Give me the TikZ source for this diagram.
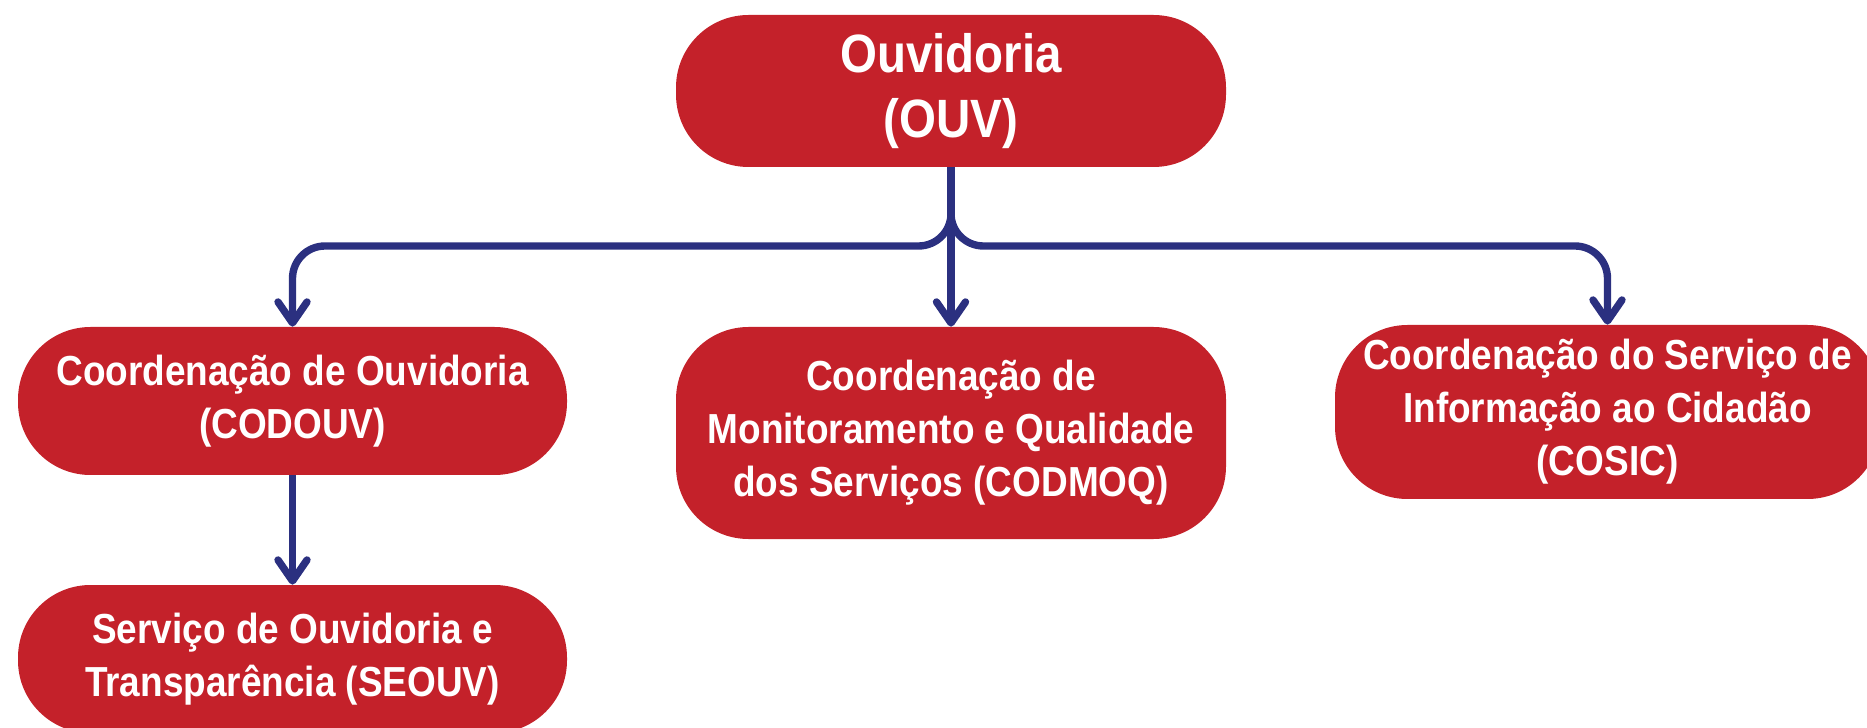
\documentclass[tikz,border=0pt]{standalone}
\usepackage{fontspec}
\setmainfont{Liberation Sans}[FakeStretch=0.88]
\usepackage{tikz}
\usetikzlibrary{arrows.meta}
\definecolor{ouvred}{HTML}{C4212A}
\definecolor{ouvblue}{HTML}{2B3080}

\begin{document}
\begin{tikzpicture}
  \tikzstyle{unit}=[rectangle, rounded corners=1.45cm, fill=ouvred, text=white, align=center,
    inner sep=0pt, font=\bfseries\fontsize{23.9}{30.2}\selectfont]
  \tikzstyle{link}=[-{Straight Barb[length=0.42cm,width=0.58cm,line cap=round,line join=round]},
    line width=4.2pt, color=ouvblue, rounded corners=0.65cm]
  \useasboundingbox (0,0) rectangle (37.34,14.54);
  \node[unit, minimum width=11cm, minimum height=3.04cm,
    font=\bfseries\fontsize{30.7}{37}\selectfont] (ouv) at (19.02,12.72) {Ouvidoria\\(OUV)};
  \node[unit, minimum width=10.98cm, minimum height=2.96cm] (codouv) at (5.85,6.52)
    {Coordenação de Ouvidoria\\(CODOUV)};
  \node[unit, minimum width=10.98cm, minimum height=2.96cm] (seouv) at (5.85,1.36)
    {Serviço de Ouvidoria e\\Transparência (SEOUV)};
  \node[unit, minimum width=11cm, minimum height=4.24cm] (codmoq) at (19.02,5.88)
    {Coordenação de\\Monitoramento e Qualidade\\dos Serviços (CODMOQ)};
  \node[unit, minimum width=10.9cm, minimum height=3.48cm] (cosic) at (32.15,6.30)
    {Coordenação do Serviço de\\Informação ao Cidadão\\(COSIC)};
  \coordinate (bus) at (19.02,9.62);
  \foreach \n in {codouv,cosic} {
    \draw[link] (ouv.south) -- (ouv.south |- bus) -| (\n.north);
  }
  \draw[link] (ouv.south) -- (codmoq.north);
  \draw[link] (codouv.south) -- (seouv.north);
\end{tikzpicture}
\end{document}
